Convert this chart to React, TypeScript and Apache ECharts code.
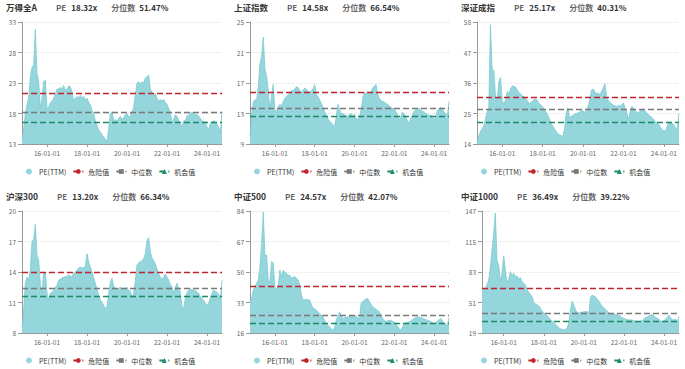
import React, { useEffect, useRef } from 'react';
import * as echarts from 'echarts';

const NAMES = ['万得全A', '上证指数', '深证成指', '沪深300', '中证500', '中证1000'];
const PE_NOW = ['18.32x', '14.58x', '25.17x', '13.20x', '24.57x', '36.49x'];
const PCT_NOW = ['51.47%', '66.54%', '40.31%', '66.34%', '42.07%', '39.22%'];
const START_MONTH = ['2014-10', '2014-10', '2014-10', '2014-10', '2014-10', '2014-12'];
const END_MONTH = '2024-10';

const Y_MIN = [13, 9, 14, 8, 16, 19];
const Y_MAX = [33, 25, 58, 20, 84, 147];
const Y_STEP = [5, 4, 11, 3, 17, 32];

const DANGER = [21.25, 15.8, 30.8, 14.0, 42.2, 65.9];
const MEDIAN = [18.2, 13.65, 26.4, 12.43, 26.0, 39.5];
const CHANCE = [16.6, 12.65, 21.9, 11.6, 21.3, 31.7];

const PE_WDQA = [
  13.8, 15.5, 18.0, 19.5, 20.5, 24.0, 25.5, 26.0, 31.8, 24.5,
  23.3, 18.8, 20.5, 23.2, 23.5, 18.8, 19.0, 19.8, 20.0, 20.5,
  21.2, 22.0, 22.0, 22.3, 22.0, 22.6, 21.8, 22.0, 22.5, 22.4,
  21.5, 20.0, 20.5, 20.8, 20.6, 21.0, 20.5, 20.8, 20.2, 20.5,
  19.8, 19.5, 18.5, 18.0, 16.8, 16.0, 15.3, 15.0, 14.5, 14.2,
  13.8, 13.3, 15.5, 18.0, 18.3, 16.8, 17.0, 16.8, 17.2, 17.5,
  17.0, 17.3, 17.8, 18.0, 17.4, 17.6, 18.2, 19.0, 21.0, 23.0,
  23.2, 22.8, 23.2, 23.0, 23.8, 24.0, 24.3, 22.0, 21.5, 21.0,
  21.3, 20.5, 20.0, 20.3, 20.0, 20.3, 19.8, 19.5, 18.8, 18.3,
  16.5, 17.0, 17.8, 17.5, 17.0, 16.2, 16.0, 16.8, 16.8, 17.6,
  17.8, 18.0, 18.2, 18.0, 17.8, 17.8, 17.6, 17.2, 16.8, 16.6,
  16.7, 15.8, 15.3, 16.4, 16.6, 16.8, 16.6, 16.3, 15.8, 14.8,
  18.32,
];
const PE_SZZS = [
  10.0, 13.0, 14.5, 14.8, 14.8, 16.5, 19.5, 20.5, 23.0, 18.8,
  17.9, 16.0, 13.5, 15.3, 16.8, 13.5, 13.3, 13.8, 14.2, 14.0,
  14.5, 15.0, 15.2, 15.5, 15.6, 16.0, 16.0, 16.2, 16.5, 16.4,
  16.0, 15.8, 16.1, 16.3, 16.2, 15.9, 15.8, 16.0, 16.2, 16.8,
  15.5, 15.2, 14.8, 14.3, 13.8, 13.2, 12.8, 12.3, 12.0, 11.8,
  11.5, 11.3, 12.5, 14.2, 13.5, 13.0, 13.0, 12.8, 12.8, 12.6,
  12.9, 13.0, 12.6, 12.9, 12.3, 12.2, 12.5, 13.5, 15.0, 15.8,
  15.6, 15.7, 15.7, 15.9, 16.3, 16.6, 16.8, 15.5, 15.0, 14.7,
  14.6, 14.5, 14.3, 14.2, 14.0, 13.8, 13.7, 13.6, 13.2, 12.8,
  12.1, 12.6, 13.2, 12.9, 12.6, 12.0, 11.8, 12.4, 12.8, 13.3,
  13.5, 13.5, 13.7, 13.5, 13.3, 13.2, 13.0, 12.9, 12.7, 12.8,
  12.5, 12.2, 12.6, 13.4, 13.6, 13.8, 13.6, 13.2, 13.0, 12.6,
  14.58,
];
const PE_SZCZ = [
  14.5, 16.5, 18.5, 19.5, 20.5, 23.0, 25.5, 27.0, 57.0, 41.0,
  40.5, 31.0, 30.0, 36.5, 38.0, 29.5, 28.5, 30.0, 33.0, 32.0,
  34.0, 35.0, 34.8, 34.5, 33.5, 32.5, 32.0, 31.2, 31.0, 30.5,
  29.5, 28.5, 29.0, 29.5, 30.0, 30.2, 29.5, 28.5, 28.0, 27.5,
  26.5, 25.5, 24.5, 23.0, 21.5, 20.5, 19.5, 18.5, 17.8, 17.3,
  17.0, 16.8, 19.5, 25.2, 27.0, 23.5, 24.0, 24.3, 24.8, 25.0,
  25.2, 25.5, 26.0, 26.0, 25.5, 25.8, 27.5, 30.0, 33.5, 33.8,
  33.0, 32.0, 32.5, 31.8, 33.0, 34.2, 35.8, 31.0, 29.5, 29.0,
  28.5, 28.0, 27.8, 27.5, 28.0, 27.6, 28.2, 28.8, 27.0, 25.2,
  22.8, 25.5, 27.6, 27.0, 26.0, 25.5, 25.2, 26.0, 26.4, 26.2,
  25.8, 25.2, 24.5, 24.0, 23.5, 22.8, 22.0, 21.5, 21.0, 20.0,
  19.2, 18.8, 18.6, 20.5, 21.6, 21.8, 21.5, 20.8, 19.8, 19.5,
  25.17,
];
const PE_HS300 = [
  8.5, 10.3, 12.9, 13.5, 13.2, 14.3, 17.0, 17.2, 18.7, 15.6,
  15.2, 12.8, 11.9, 14.0, 13.9, 11.9, 11.2, 11.9, 12.0, 12.2,
  12.5, 12.7, 13.2, 13.3, 13.4, 13.5, 13.5, 13.6, 13.7, 13.6,
  13.5, 13.9, 14.0, 14.2, 14.4, 14.5, 14.4, 14.4, 14.6, 15.8,
  15.0, 14.5, 14.0, 13.4, 12.9, 12.3, 11.7, 11.3, 11.0, 10.7,
  10.4, 10.6, 11.8, 13.0, 13.4, 12.6, 12.4, 12.3, 12.4, 12.5,
  12.4, 12.2, 12.4, 12.5, 12.2, 12.1, 11.5, 11.9, 13.1, 14.7,
  14.9, 15.0, 15.1, 15.3, 15.8, 17.1, 17.4, 16.0, 15.4, 15.1,
  14.8, 14.3, 13.8, 13.5, 13.2, 13.5, 13.8, 13.5, 13.2, 12.8,
  12.5, 11.9, 12.5, 12.9, 12.4, 12.0, 10.5, 10.5, 11.4, 12.0,
  12.2, 12.3, 12.3, 12.2, 12.2, 12.0, 11.9, 11.6, 11.4, 11.2,
  10.9, 10.7, 10.9, 11.5, 11.9, 12.2, 12.1, 12.0, 11.8, 11.4,
  13.2,
];
const PE_ZZ500 = [
  33.4, 35.3, 40.0, 41.9, 43.7, 45.6, 53.0, 66.0, 83.5, 59.0,
  59.5, 45.0, 44.5, 56.0, 55.0, 41.9, 40.0, 42.0, 51.0, 47.5,
  51.0, 50.0, 49.0, 48.4, 48.0, 46.6, 47.0, 47.5, 46.5, 45.6,
  43.0, 37.0, 34.6, 34.4, 34.8, 34.5, 34.4, 32.0, 29.7, 29.5,
  28.8, 27.8, 26.9, 26.0, 25.0, 23.0, 21.2, 20.3, 19.4, 18.5,
  17.5, 19.0, 23.1, 25.5, 27.8, 25.9, 24.1, 24.5, 24.8, 25.0,
  25.2, 25.5, 25.5, 25.8, 25.3, 24.5, 24.0, 32.6, 33.5, 34.4,
  35.0, 35.3, 33.5, 32.0, 30.7, 30.0, 29.2, 28.5, 27.8, 26.0,
  24.1, 23.2, 22.3, 22.8, 23.1, 23.0, 22.5, 22.0, 21.2, 19.8,
  18.4, 17.5, 19.5, 21.2, 21.5, 22.0, 22.2, 22.8, 23.5, 24.1,
  24.5, 25.0, 24.8, 24.6, 24.2, 23.8, 23.5, 23.1, 22.8, 22.3,
  21.8, 21.2, 21.8, 22.5, 23.3, 24.1, 22.8, 21.2, 20.8, 20.3,
  24.57,
];
const PE_ZZ1000 = [
  64, 65.9, 64, 70, 74.6, 88, 106, 124, 145, 95,
  90, 73, 82, 100, 85, 72, 75.5, 83.4, 79, 81.6,
  78, 79, 75.8, 77, 72.8, 71, 69.5, 64, 62, 59.5,
  57, 50.9, 49.5, 48.5, 47.5, 45, 42.2, 40.5, 38.7, 37,
  35.2, 33.5, 31.6, 30, 28.1, 26.5, 24.6, 23.5, 22.8, 22.5,
  22.8, 24.6, 29.8, 43.6, 52.4, 48.5, 43.6, 40, 40.2, 40.6,
  41, 41.3, 41.5, 41.3, 40, 56.9, 58.7, 57.8, 56.9, 54.5,
  52.4, 49.5, 47.2, 45.5, 43.6, 41.8, 40, 39.3, 38.7, 38.5,
  38.7, 38.2, 37.6, 36.4, 35.2, 34.3, 33.4, 33.0, 32.7, 32.7,
  32.7, 31.9, 31.1, 30.8, 30.4, 31.3, 32.2, 33.8, 35.2, 36.0,
  36.9, 37.8, 38.7, 37.0, 35.2, 34.3, 33.4, 31.9, 30.4, 31.9,
  33.4, 35.5, 37.6, 35.0, 32.7, 33.0, 33.4, 30.4, 36.49,
];
const PE_SERIES = [PE_WDQA, PE_SZZS, PE_SZCZ, PE_HS300, PE_ZZ500, PE_ZZ1000];

const FONT = '"Noto Sans CJK SC", "Noto Sans", sans-serif';
const AREA = '#95d5dc';
const LINE = '#7ccad2';
const RED = '#c0262d';
const GRAY = '#7a7a7a';
const GREEN = '#1f8a66';

function monthList(start: string, end: string): string[] {
  const [sy, sm] = start.split('-').map(Number);
  const [ey, em] = end.split('-').map(Number);
  const out: string[] = [];
  let y = sy;
  let m = sm;
  while (y < ey || (y === ey && m <= em)) {
    out.push(`${y}-${String(m).padStart(2, '0')}-01`);
    m += 1;
    if (m > 12) {
      m = 1;
      y += 1;
    }
  }
  return out;
}

const isYearTick = (_: number, v: string) =>
  v.slice(5) === '01-01' && Number(v.slice(0, 4)) % 2 === 0;

function threshold(name: string, value: number, color: string, symbol: string) {
  return {
    name,
    type: 'line',
    data: [],
    symbol,
    symbolSize: 4,
    itemStyle: { color },
    lineStyle: { color, type: [6, 3], width: 1.3 },
    markLine: {
      silent: true,
      symbol: 'none',
      label: { show: false },
      lineStyle: { color, type: [6, 3], width: 1.3 },
      data: [{ yAxis: value }],
    },
  };
}

function buildOption(i: number) {
  const cats = monthList(START_MONTH[i], END_MONTH);
  const labelLen = String(Y_MAX[i]).length;
  return {
    animation: false,
    textStyle: { fontFamily: FONT },
    title: {
      left: 6,
      top: 3,
      padding: 0,
      text: `{n|${NAMES[i]}}{l|PE}{v|${PE_NOW[i]}}{l2|分位数}{v2|${PCT_NOW[i]}}`,
      textStyle: {
        rich: {
          n: { fontSize: 8.5, fontWeight: 'bold', color: '#333', padding: [0, 19, 0, 0], fontFamily: FONT },
          l: { fontSize: 8, color: '#666', padding: [0, 5, 0, 0], fontFamily: FONT },
          v: { fontSize: 8, fontWeight: 'bold', color: '#333', padding: [0, 14, 0, 0], fontFamily: FONT },
          l2: { fontSize: 8, color: '#666', padding: [0, 4, 0, 0], fontFamily: FONT },
          v2: { fontSize: 8, fontWeight: 'bold', color: '#333', fontFamily: FONT },
        },
      },
    },
    grid: { left: 12 + labelLen * 5, right: 6, top: 22, height: 122 },
    legend: {
      top: 168,
      left: 26,
      padding: 0,
      itemGap: 6,
      itemWidth: 10,
      itemHeight: 6,
      textStyle: { fontSize: 7, color: '#333', fontFamily: FONT },
      data: [{ name: 'PE(TTM)', icon: 'circle' }, '危险值', '中位数', '机会值'],
    },
    xAxis: {
      type: 'category',
      boundaryGap: false,
      data: cats,
      axisLine: { lineStyle: { color: '#999' } },
      axisTick: { interval: isYearTick, length: 3, lineStyle: { color: '#999' } },
      axisLabel: {
        interval: isYearTick,
        formatter: (v: string) => v.slice(2),
        fontSize: 6.5,
        color: '#666',
        margin: 6,
      },
      splitLine: { show: false },
    },
    yAxis: {
      type: 'value',
      min: Y_MIN[i],
      max: Y_MAX[i],
      interval: Y_STEP[i],
      axisLine: { show: true, lineStyle: { color: '#999' } },
      axisTick: { show: true, length: 4, lineStyle: { color: '#999' } },
      axisLabel: { fontSize: 6.5, color: '#666', margin: 6 },
      splitLine: { lineStyle: { type: 'dotted', color: '#e2e2e2' } },
    },
    series: [
      {
        name: 'PE(TTM)',
        type: 'line',
        data: PE_SERIES[i],
        symbol: 'none',
        lineStyle: { width: 0.8, color: LINE },
        itemStyle: { color: AREA },
        areaStyle: { color: AREA, opacity: 1 },
      },
      threshold('危险值', DANGER[i], RED, 'circle'),
      threshold('中位数', MEDIAN[i], GRAY, 'rect'),
      threshold('机会值', CHANCE[i], GREEN, 'triangle'),
    ],
  };
}

function Panel({ idx, style }: { idx: number; style: React.CSSProperties }) {
  const ref = useRef<HTMLDivElement>(null);
  useEffect(() => {
    if (!ref.current) return;
    const chart = echarts.init(ref.current, null, { renderer: 'svg' });
    chart.setOption(buildOption(idx));
    return () => chart.dispose();
  }, [idx]);
  return <div ref={ref} style={style} />;
}

const COL_X = [0, 228, 455];
const COL_W = [228, 227, 230];
const ROW_Y = [0, 189];
const ROW_H = [185, 180];

export default function App() {
  return (
    <div style={{ position: 'fixed', left: 0, top: 0, width: 685, height: 369, background: '#fff' }}>
      {NAMES.map((_, i) => {
        const c = i % 3;
        const r = Math.floor(i / 3);
        return (
          <Panel
            key={i}
            idx={i}
            style={{ position: 'absolute', left: COL_X[c], top: ROW_Y[r], width: COL_W[c], height: ROW_H[r] }}
          />
        );
      })}
    </div>
  );
}
